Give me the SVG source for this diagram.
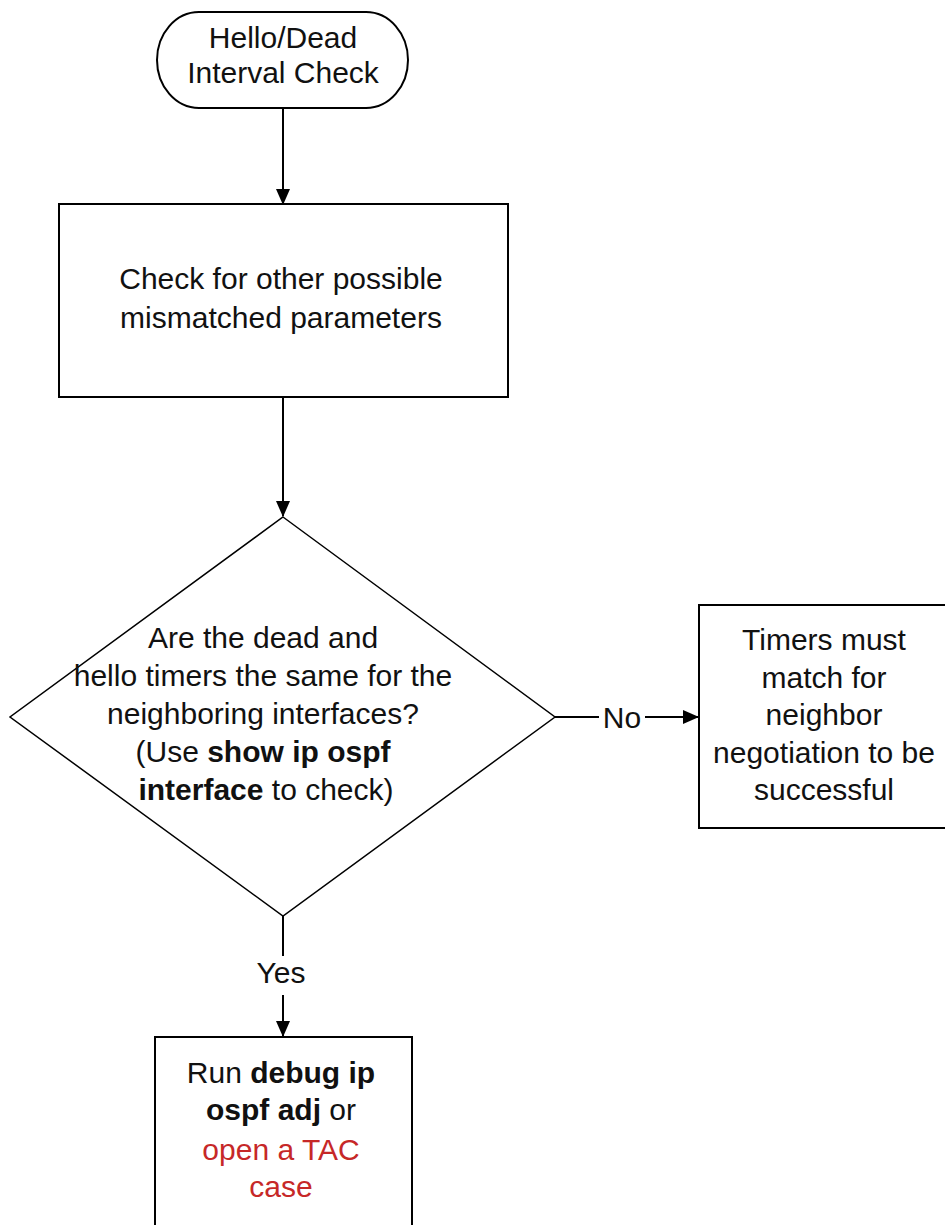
<svg xmlns="http://www.w3.org/2000/svg" width="945" height="1225" viewBox="0 0 945 1225">
<defs>
<marker id="arr" markerWidth="16" markerHeight="14" refX="15" refY="7" orient="auto" markerUnits="userSpaceOnUse">
<path d="M0,0 L16,7 L0,14 Z" fill="#000"/>
</marker>
<style>
.shape{fill:#fff;stroke:#000;stroke-width:2}
.dia{fill:#fff;stroke:#000;stroke-width:1.5}
.line{stroke:#000;stroke-width:2;fill:none}
text{font-family:"Liberation Sans",Arial,sans-serif;font-size:30px;fill:#111;text-anchor:middle}
.b{font-weight:bold}
.red{fill:#c62828}
</style>
</defs>
<rect width="945" height="1225" fill="#fff"/>
<g id="connectors">
<line class="line" x1="283" y1="108" x2="283" y2="204" marker-end="url(#arr)"/>
<line class="line" x1="283" y1="397" x2="283" y2="516" marker-end="url(#arr)"/>
<line class="line" x1="555" y1="717" x2="599" y2="717"/>
<line class="line" x1="645" y1="717" x2="698" y2="717" marker-end="url(#arr)"/>
<text x="622" y="728">No</text>
<line class="line" x1="283" y1="916" x2="283" y2="956"/>
<line class="line" x1="283" y1="995" x2="283" y2="1036" marker-end="url(#arr)"/>
<text x="281" y="983">Yes</text>
</g>
<g id="start">
<rect class="shape" x="157" y="12" width="251" height="96" rx="42" ry="48"/>
<text x="283" y="48">Hello/Dead</text>
<text x="283" y="83">Interval Check</text>
</g>
<g id="check-params">
<rect class="shape" x="59" y="204" width="449" height="193"/>
<text x="281" y="289">Check for other possible</text>
<text x="281" y="328">mismatched parameters</text>
</g>
<g id="decision">
<polygon class="dia" points="283,517 555,717 283,916 10,717"/>
<text x="263" y="648">Are the dead and</text>
<text x="263" y="686">hello timers the same for the</text>
<text x="263" y="724">neighboring interfaces?</text>
<text x="263" y="762">(Use <tspan class="b">show ip ospf</tspan></text>
<text x="266" y="800"><tspan class="b">interface</tspan> to check)</text>
</g>
<g id="timers-must-match">
<rect class="shape" x="699" y="605" width="260" height="223"/>
<text x="824" y="650">Timers must</text>
<text x="824" y="688">match for</text>
<text x="824" y="725">neighbor</text>
<text x="824" y="763">negotiation to be</text>
<text x="824" y="800">successful</text>
</g>
<g id="run-debug">
<rect class="shape" x="155" y="1037" width="257" height="200"/>
<text x="281" y="1083">Run <tspan class="b">debug ip</tspan></text>
<text x="281" y="1120"><tspan class="b">ospf adj</tspan> or</text>
<text x="281" y="1160" class="red">open a TAC</text>
<text x="281" y="1197" class="red">case</text>
</g>
</svg>
